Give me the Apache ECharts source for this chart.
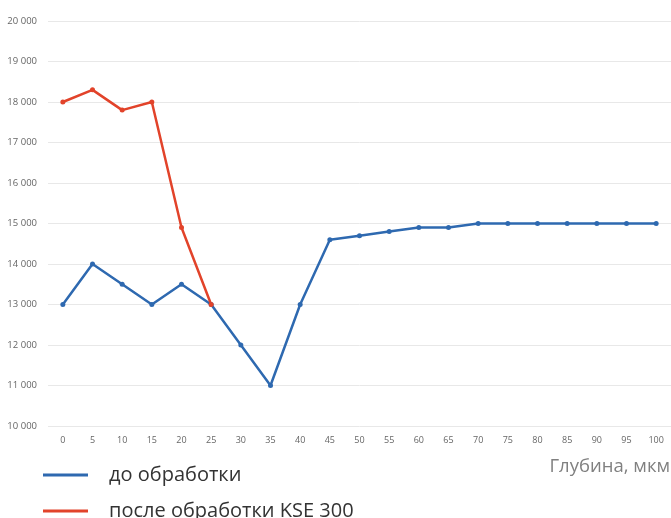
<!DOCTYPE html>
<html><head><meta charset="utf-8">
<script src="https://cdn.jsdelivr.net/npm/echarts@6/dist/echarts.min.js"></script>
<style>html,body{margin:0;padding:0;background:#fff}#c{width:671px;height:518px}</style>
</head><body><div id="c"></div>
<script>
var depths = ['0','5','10','15','20','25','30','35','40','45','50','55','60','65','70','75','80','85','90','95','100'];
var before = [13000,14000,13500,13000,13500,13000,12000,11000,13000,14600,14700,14800,14900,14900,15000,15000,15000,15000,15000,15000,15000];
var after = [18000,18300,17800,18000,14900,13000];
var seriesNames = ['до обработки','после обработки KSE 300'];
var xAxisTitle = 'Глубина, мкм';

function legendFor(name, top){
  return {orient:'horizontal', left:43, top:top, padding:0, itemWidth:45, itemHeight:3, icon:'rect',
    textStyle:{fontSize:20, color:'#333', fontFamily:'Open Sans', padding:[0,0,0,16]},
    data:[name]};
}

var chart = echarts.init(document.getElementById('c'), null, {renderer:'canvas'});
chart.setOption({
  animation:false,
  backgroundColor:'#fff',
  grid:{left:48, right:-4, top:21, bottom:92, containLabel:false},
  xAxis:{type:'category', data:depths, boundaryGap:true,
    axisLine:{show:false}, axisTick:{show:false},
    axisLabel:{color:'#666', fontSize:9, fontFamily:'Open Sans', margin:10, interval:0}},
  yAxis:{type:'value', min:10000, max:20000, interval:1000,
    axisLine:{show:false}, axisTick:{show:false},
    splitLine:{lineStyle:{color:'#e8e8e8', width:1}},
    axisLabel:{color:'#666', fontSize:9.5, fontFamily:'Open Sans', margin:11,
      formatter:function(v){return String(v).replace(/\B(?=(\d{3})+(?!\d))/g,' ');}}},
  legend:[legendFor(seriesNames[0], 465), legendFor(seriesNames[1], 501)],
  graphic:[{type:'text', right:1, top:457, style:{text:xAxisTitle, fontSize:18.5, fill:'#808080', fontFamily:'Open Sans'}}],
  series:[
    {name:seriesNames[0], type:'line', data:before, color:'#2e69b0', symbol:'circle', symbolSize:5,
      lineStyle:{width:2.5, color:'#2e69b0'}, itemStyle:{color:'#2e69b0'}},
    {name:seriesNames[1], type:'line', data:after, color:'#e2432a', symbol:'circle', symbolSize:5,
      lineStyle:{width:2.5, color:'#e2432a'}, itemStyle:{color:'#e2432a'}}
  ]
});
</script></body></html>
